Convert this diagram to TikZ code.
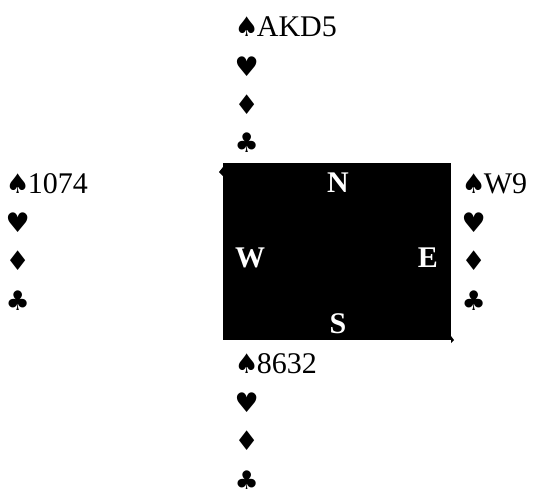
\documentclass[tikz,border=0pt]{standalone}
\usepackage{fontspec}
\setmainfont{Liberation Serif}
\newfontfamily\suitfont{DejaVu Sans}
\newcommand{\suit}[1]{{\suitfont\fontsize{27}{38}\selectfont\kern-1.5pt #1\kern-2pt}}
\newcommand{\Sp}{\suit{♠}}
\newcommand{\Hr}{\suit{♥}}
\newcommand{\Di}{\suit{♦}}
\newcommand{\Cl}{\suit{♣}}
\begin{document}
\begin{tikzpicture}[x=1pt,y=-1pt,
  hand/.style={anchor=base west,inner sep=0pt,font=\fontsize{30}{38}\selectfont},
  dir/.style={anchor=base,inner sep=0pt,text=white,font=\fontsize{30}{38}\selectfont\bfseries}]
\useasboundingbox (0,0) rectangle (533,488);
% table
\fill[black] (223,163) rectangle (451,340);
\fill[black] (223,167) -- (219,172) -- (223,176) -- cycle;
\fill[black] (451,336) -- (454,340) -- (451,343) -- cycle;
\node[dir] (N) at (338,192) {N};
\node[dir] (W) at (250,267) {W};
\node[dir] (E) at (428,267) {E};
\node[dir] (S) at (338,333) {S};
% North
\node[hand] (ns) at (236,36) {\Sp AKD5};
\node[hand] (nh) at (236,76) {\Hr};
\node[hand] (nd) at (236,114) {\Di};
\node[hand] (nc) at (236,152) {\Cl};
% West
\node[hand] (ws) at (7,193) {\Sp 1074};
\node[hand] (wh) at (7,232) {\Hr};
\node[hand] (wd) at (7,270) {\Di};
\node[hand] (wc) at (7,310) {\Cl};
% East
\node[hand] (es) at (463,193) {\Sp W9};
\node[hand] (eh) at (463,232) {\Hr};
\node[hand] (ed) at (463,270) {\Di};
\node[hand] (ec) at (463,310) {\Cl};
% South
\node[hand] (ss) at (236,373) {\Sp 8632};
\node[hand] (sh) at (236,412) {\Hr};
\node[hand] (sd) at (236,450) {\Di};
\node[hand] (sc) at (236,490) {\Cl};
\end{tikzpicture}
\end{document}
